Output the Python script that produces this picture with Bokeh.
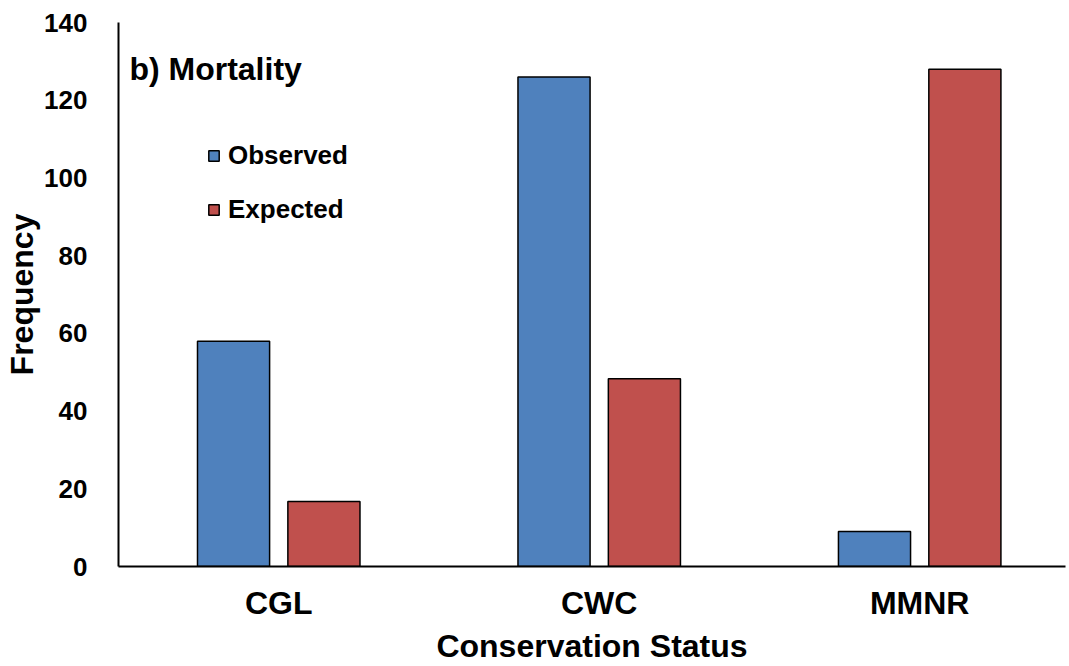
from bokeh.plotting import figure
from bokeh.models import ColumnDataSource, Range1d, Legend, LegendItem, Label, FixedTicker
from bokeh.embed import file_html
from bokeh.resources import INLINE

categories = ["CGL", "CWC", "MMNR"]
observed = [58, 126, 9]
expected = [16.7, 48.3, 128]
y_ticks = [0, 20, 40, 60, 80, 100, 120, 140]

FONT = "Liberation Sans"
BLUE = "#4F81BD"
RED = "#C0504D"

# category centres on a numeric axis (one unit per category)
centres = [i + 0.5 for i in range(len(categories))]
source = ColumnDataSource(data=dict(
    centre=centres,
    x_obs=[c - 0.141 for c in centres],
    x_exp=[c + 0.141 for c in centres],
    observed=observed, expected=expected))

p = figure(width=1069, height=666, output_backend="svg", toolbar_location=None,
           x_range=Range1d(0, 2.955), y_range=Range1d(0, 140),
           min_border_left=118, min_border_right=4, min_border_top=22, min_border_bottom=99)

r_obs = p.vbar(x="x_obs", top="observed", width=0.225, source=source,
               fill_color=BLUE, line_color="black", line_width=1.5)
r_exp = p.vbar(x="x_exp", top="expected", width=0.225, source=source,
               fill_color=RED, line_color="black", line_width=1.5)

p.outline_line_color = None
p.xgrid.grid_line_color = None
p.ygrid.grid_line_color = None
p.background_fill_color = "white"
p.border_fill_color = "white"

# y axis
p.yaxis.ticker = FixedTicker(ticks=y_ticks)
p.yaxis.minor_tick_line_color = None
p.yaxis.major_tick_line_color = None
p.yaxis.axis_line_color = "black"
p.yaxis.axis_line_width = 2
p.yaxis.major_label_text_font = FONT
p.yaxis.major_label_text_font_style = "bold"
p.yaxis.major_label_text_font_size = "26px"
p.yaxis.major_label_text_color = "black"
p.yaxis.major_label_standoff = 25
p.yaxis.axis_label = "Frequency"
p.yaxis.axis_label_text_font = FONT
p.yaxis.axis_label_text_font_style = "bold"
p.yaxis.axis_label_text_font_size = "32px"
p.yaxis.axis_label_text_color = "black"
p.yaxis.axis_label_standoff = 1

# x axis (categorical labels on the numeric centres)
p.xaxis.ticker = FixedTicker(ticks=centres)
p.xaxis.major_label_overrides = {c: name for c, name in zip(centres, categories)}
p.xaxis.major_tick_line_color = None
p.xaxis.minor_tick_line_color = None
p.xaxis.axis_line_color = "black"
p.xaxis.axis_line_width = 2
p.xaxis.major_label_text_font = FONT
p.xaxis.major_label_text_font_style = "bold"
p.xaxis.major_label_text_font_size = "32px"
p.xaxis.major_label_text_color = "black"
p.xaxis.major_label_standoff = 12
p.xaxis.axis_label = "Conservation Status"
p.xaxis.axis_label_text_font = FONT
p.xaxis.axis_label_text_font_style = "bold"
p.xaxis.axis_label_text_font_size = "32px"
p.xaxis.axis_label_text_color = "black"
p.xaxis.axis_label_standoff = 4

# panel title inside the plot
title = Label(x=0.034, y=128.0, text="b) Mortality", text_font=FONT, text_font_style="bold",
              text_font_size="32px", text_color="black", text_baseline="alphabetic", text_align="left")
p.add_layout(title)

legend = Legend(items=[LegendItem(label="Observed", renderers=[r_obs]),
                       LegendItem(label="Expected", renderers=[r_exp])],
                location=(89, 341), orientation="vertical",
                glyph_width=13, glyph_height=13, label_standoff=8,
                label_height=26, spacing=23, padding=0, margin=0,
                border_line_color=None, background_fill_alpha=0,
                label_text_font=FONT, label_text_font_style="bold",
                label_text_font_size="26px", label_text_color="black")
p.add_layout(legend)

open("out.html", "w").write(file_html(p, INLINE))
